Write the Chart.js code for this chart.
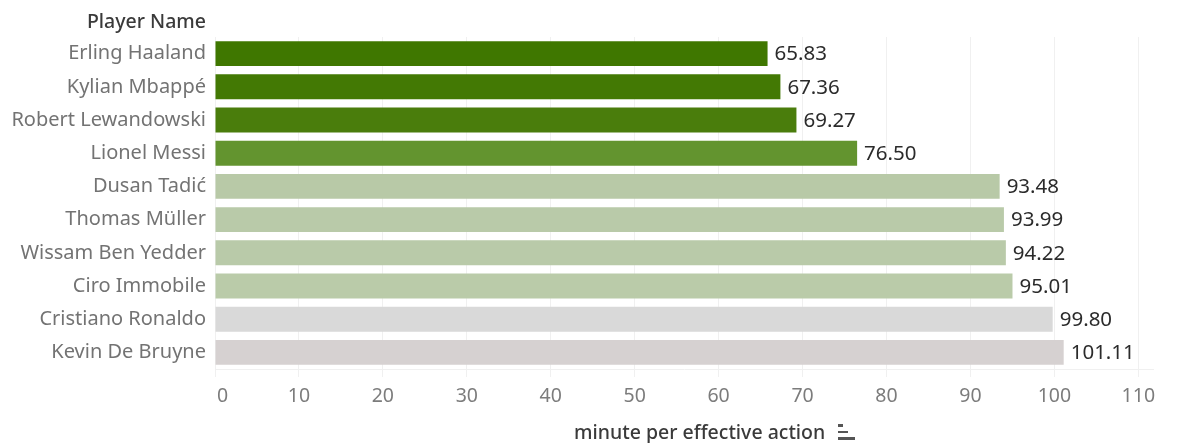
<!DOCTYPE html>
<html>
<head>
<meta charset="utf-8">
<title>minute per effective action</title>
<script src="https://cdn.jsdelivr.net/npm/chart.js@4/dist/chart.umd.min.js"></script>
<style>
  html, body { margin: 0; padding: 0; background: #fff; }
  #wrap { width: 1179px; height: 443px; }
</style>
</head>
<body>
<div id="wrap"><canvas id="chart" width="1179" height="443"></canvas></div>
<script>
const players = ['Erling Haaland', 'Kylian Mbappé', 'Robert Lewandowski', 'Lionel Messi', 'Dusan Tadić',
    'Thomas Müller', 'Wissam Ben Yedder', 'Ciro Immobile', 'Cristiano Ronaldo', 'Kevin De Bruyne'];
const minutes = [65.83, 67.36, 69.27, 76.50, 93.48, 93.99, 94.22, 95.01, 99.80, 101.11];
const barColors = ['#3f7700', '#437904', '#4a7d0c', '#63942f', '#b8c9a7', '#b9caa9', '#b9caa9', '#bacba9', '#d9d9d9', '#d6d1d1'];
const xTicks = [0, 10, 20, 30, 40, 50, 60, 70, 80, 90, 100, 110];

const fontName = '"Noto Sans", "Open Sans", sans-serif';

// value labels at the bar ends, plus the two header texts
const annotations = {
    id: 'annotations',
    afterDatasetsDraw(chart) {
        const { ctx } = chart;
        const bars = chart.getDatasetMeta(0).data;
        ctx.save();
        ctx.font = '20.5px ' + fontName;
        ctx.fillStyle = '#2b2b2b';
        ctx.textAlign = 'left';
        ctx.textBaseline = 'middle';
        bars.forEach((bar, i) => ctx.fillText(minutes[i].toFixed(2), bar.x + 7, bar.y + 1));

        ctx.font = '500 19.5px ' + fontName;
        ctx.fillStyle = '#3a3a3a';
        ctx.textAlign = 'right';
        ctx.fillText('Player Name', 206, 22);

        ctx.textAlign = 'left';
        ctx.fillText('minute per effective action', 574, 433);

        // sort icon beside the axis title
        ctx.fillStyle = '#555';
        ctx.fillRect(838, 424, 5, 3);
        ctx.fillRect(838, 431, 10, 2);
        ctx.fillRect(838, 437, 17, 3);
        ctx.restore();
    }
};

new Chart(document.getElementById('chart'), {
    type: 'bar',
    data: {
        labels: players,
        datasets: [{ data: minutes, backgroundColor: barColors, categoryPercentage: 1, barPercentage: 0.75 }]
    },
    options: {
        indexAxis: 'y',
        responsive: false,
        animation: false,
        layout: { padding: { top: 37, right: 26, left: 0, bottom: 0 } },
        plugins: { legend: { display: false }, tooltip: { enabled: false } },
        scales: {
            x: {
                min: 0,
                max: 111.75,
                afterBuildTicks(scale) { scale.ticks = xTicks.map(v => ({ value: v })); },
                afterFit(scale) { scale.height = 74; },
                grid: { color: '#f0f0f0', tickColor: '#f0f0f0', tickLength: 8, lineWidth: 1 },
                border: { display: true, color: '#f0f0f0' },
                ticks: {
                    color: '#7c7c7c',
                    font: { family: fontName, size: 19.5 },
                    maxRotation: 0,
                    autoSkip: false,
                    padding: 8,
                    callback: v => (v === 0 ? '   0' : String(v))
                }
            },
            y: {
                afterFit(scale) { scale.width = 215; },
                grid: { display: false },
                border: { display: false },
                ticks: {
                    color: '#737373',
                    font: { family: fontName, size: 20 },
                    padding: 1,
                    autoSkip: false
                }
            }
        }
    },
    plugins: [annotations]
});
</script>
</body>
</html>
